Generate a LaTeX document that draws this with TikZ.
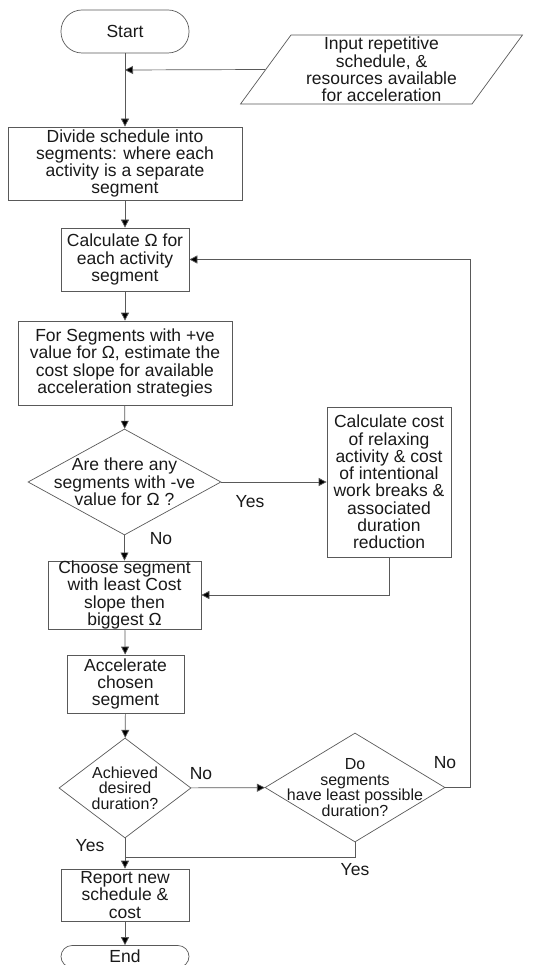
\documentclass[tikz,border=0pt]{standalone}
\usepackage{fontspec}
\setmainfont{Liberation Sans}
\usepackage{tikz}
\usetikzlibrary{arrows.meta}
\usetikzlibrary{shapes.geometric}

\begin{document}
\begin{tikzpicture}[x=1pt,y=-1pt,
  line/.style={draw=black!65,line width=0.7pt},
  flow/.style={line,-{Triangle[length=8pt,width=8pt,fill=black]}},
  box/.style={line,rectangle,inner sep=0pt,align=center,text=black!90,
    font=\fontsize{17.5}{17.3}\selectfont},
  term/.style={box,rounded corners=21pt,minimum width=128pt,minimum height=43pt},
  ask/.style={line,diamond,inner sep=0pt,
    label={[align=center,text=black!90,font=\fontsize{17.5}{17.3}\selectfont]center:#1}},
  smallask/.style={line,diamond,inner sep=0pt,
    label={[align=center,text=black!90,font=\fontsize{16}{15.7}\selectfont]center:#1}},
  lbl/.style={text=black!90,font=\fontsize{17.5}{17.3}\selectfont}]
\useasboundingbox (0,0) rectangle (533,965);
\clip (0,0) rectangle (533,965);

\node[term] (start) at (125,31.5) {Start};
\node[line,trapezium,trapezium left angle=57,trapezium right angle=123,
  trapezium stretches=true,minimum width=283pt,minimum height=69pt,
  inner sep=0pt,align=center,text=black!90,font=\fontsize{17.5}{17.3}\selectfont]
  (inp) at (381.5,69.5) {Input repetitive\\schedule, \&\\resources available\\for acceleration};
\node[box,minimum width=234pt,minimum height=73pt] (divide) at (125,163.5)
  {Divide schedule into\\segments: where each\\activity is a separate\\segment};
\node[box,minimum width=128pt,minimum height=63pt] (calc) at (125,259.5)
  {Calculate Ω for\\each activity\\segment};
\node[box,minimum width=214pt,minimum height=84pt] (slope) at (125,363)
  {For Segments with +ve\\value for Ω, estimate the\\cost slope for available\\acceleration strategies};
\node[ask={Are there any\\segments with -ve\\value for Ω ?},
  minimum width=193pt,minimum height=106pt] (neg) at (124.5,482) {};
\node[box,minimum width=124pt,minimum height=150pt] (relax) at (389,482)
  {Calculate cost\\of relaxing\\activity \& cost\\of intentional\\work breaks \&\\associated\\duration\\reduction};
\node[box,minimum width=153pt,minimum height=68pt] (choose) at (124.5,595)
  {Choose segment\\with least Cost\\slope then\\biggest Ω};
\node[box,minimum width=117pt,minimum height=58pt] (accel) at (125.5,684)
  {Accelerate\\chosen\\segment};
\node[smallask={Achieved\\desired\\duration?},
  minimum width=132pt,minimum height=100pt] (done) at (125,788) {};
\node[smallask={Do\\segments\\have least possible\\duration?},
  minimum width=180pt,minimum height=109pt] (least) at (355,787.5) {};
\node[box,minimum width=128pt,minimum height=52pt] (report) at (125,895)
  {Report new\\schedule \&\\cost};
\node[box,rounded corners=11pt,minimum width=128pt,minimum height=22pt] (finish)
  at (125,956.5) {End};

\coordinate (joinA) at (125,70);
\coordinate (joinB) at (125,857);
\coordinate (loopA) at (470,787.5);

\draw[line] (start) -- (joinA);
\draw[flow] (inp.west) -- (joinA);
\draw[flow] (joinA) -- (divide);
\draw[flow] (divide) -- (calc);
\draw[flow] (calc) -- (slope);
\draw[flow] (slope) -- (neg);
\draw[flow] (neg) -- (relax);
\draw[flow] (neg) -- (choose);
\draw[flow] (relax.south) |- (choose.east);
\draw[flow] (choose) -- (accel);
\draw[flow] (accel) -- (done);
\draw[flow] (done) -- (least);
\draw[line] (least.east) -- (loopA);
\draw[flow] (loopA) |- (calc.east);
\draw[line] (least.south) |- (joinB);
\draw[flow] (done) -- (report);
\draw[flow] (report) -- (finish);

\node[lbl] (yesA) at (250,502) {Yes};
\node[lbl] (noA) at (161,539) {No};
\node[lbl] (noB) at (201,774) {No};
\node[lbl] (noC) at (445,763) {No};
\node[lbl] (yesB) at (90,846) {Yes};
\node[lbl] (yesC) at (355,870) {Yes};
\end{tikzpicture}
\end{document}
